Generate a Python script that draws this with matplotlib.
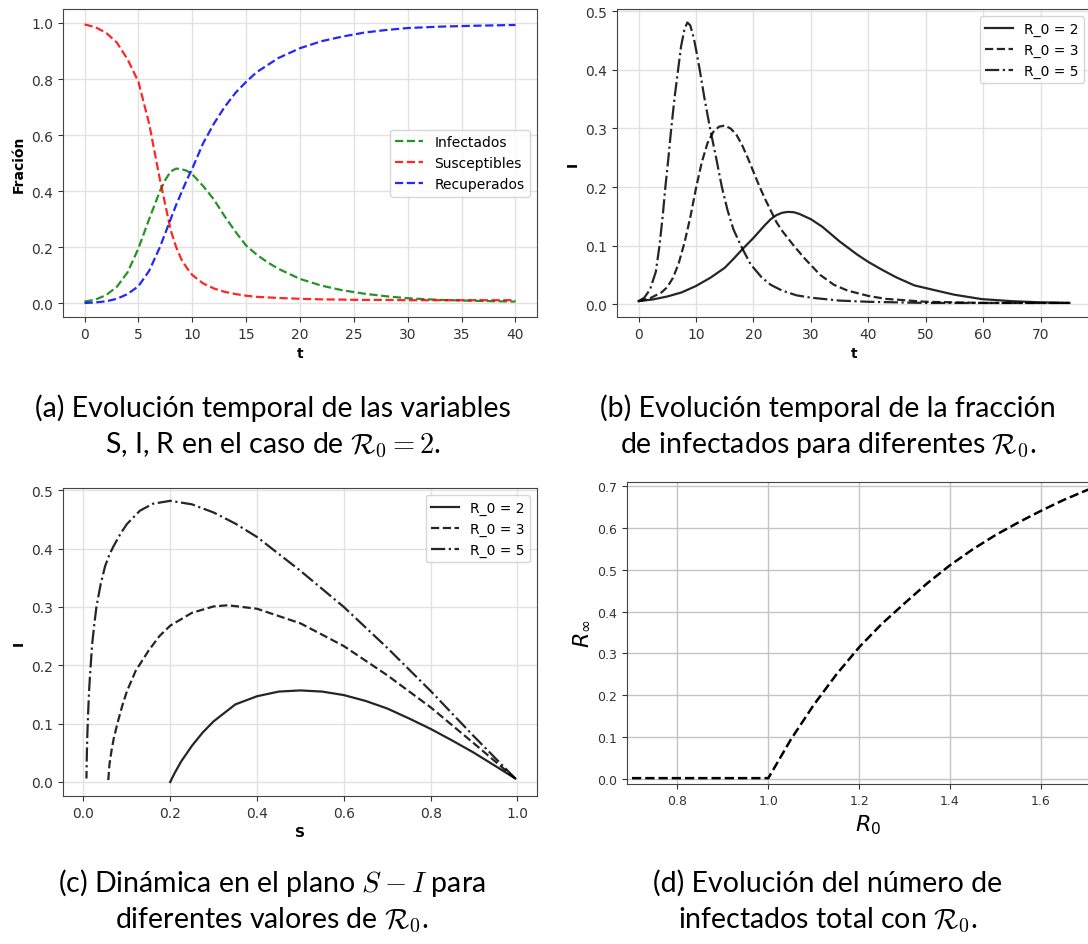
import numpy as np
import matplotlib.pyplot as plt

# (a) S, I, R vs t
t_a = [0, 1, 2, 3, 4, 5, 6, 7, 7.5, 8, 8.5, 9, 9.5, 10, 11, 12, 13, 14, 15, 16, 17,
       18, 20, 22, 24, 26, 28, 30, 33, 36, 40]
inf_a = [0.005, 0.012, 0.028, 0.058, 0.11, 0.195, 0.30, 0.40, 0.44, 0.47, 0.48, 0.478,
         0.472, 0.46, 0.418, 0.37, 0.31, 0.255, 0.205, 0.172, 0.145,
         0.122, 0.086, 0.062, 0.045, 0.033, 0.024, 0.017, 0.011, 0.008, 0.005]
sus_a = [0.995, 0.985, 0.965, 0.93, 0.87, 0.79, 0.64, 0.44, 0.35, 0.26, 0.20, 0.155,
         0.125, 0.10, 0.07, 0.052, 0.04, 0.032, 0.026, 0.022, 0.02,
         0.018, 0.015, 0.013, 0.012, 0.011, 0.011, 0.01, 0.01, 0.01, 0.01]
rec_a = [0.0, 0.002, 0.006, 0.015, 0.032, 0.06, 0.115, 0.2, 0.25, 0.3, 0.35, 0.395,
         0.44, 0.48, 0.57, 0.64, 0.70, 0.75, 0.79, 0.825, 0.85,
         0.875, 0.91, 0.935, 0.952, 0.966, 0.975, 0.982, 0.987, 0.99, 0.993]

# (b) I vs t for several R0
t_b2 = [0, 2.5, 5, 7.5, 10, 12.5, 15, 16.5, 18, 20, 22, 23, 24, 25, 26, 27, 28, 30,
        32, 35, 38, 40, 42.5, 44.8, 48, 51.9, 55, 59.7, 65, 70, 75]
i_b2 = [0.005, 0.008, 0.013, 0.02, 0.031, 0.045, 0.062, 0.077, 0.093, 0.113, 0.135,
        0.145, 0.152, 0.156, 0.1575, 0.157, 0.154, 0.145, 0.132, 0.107, 0.085,
        0.072, 0.058, 0.046, 0.032, 0.023, 0.016, 0.0086, 0.005, 0.003, 0.002]
t_b3 = [0, 2, 4, 5, 6, 7, 8, 9, 10, 11, 12, 13, 14, 15, 16, 17, 18, 19, 20, 21, 22,
        23, 24, 25, 27, 29, 31.6, 34, 36.4, 40, 43, 50, 60, 75]
i_b3 = [0.005, 0.01, 0.02, 0.029, 0.045, 0.07, 0.105, 0.148, 0.198, 0.242, 0.275,
        0.294, 0.303, 0.305, 0.3, 0.29, 0.272, 0.25, 0.226, 0.202, 0.18, 0.16,
        0.14, 0.125, 0.1, 0.077, 0.05, 0.033, 0.023, 0.014, 0.009, 0.004, 0.002,
        0.002]
t_b5 = [0, 1, 2, 3, 3.65, 4.2, 4.67, 5.2, 5.69, 6.3, 6.88, 7.4, 8, 8.5, 9, 9.6,
        10.1, 10.65, 11.5, 12.45, 13.5, 14.5, 15.5, 16.5, 17.8, 19.5, 21.4, 23,
        25, 27.5, 30, 35, 40, 50, 60, 75]
i_b5 = [0.005, 0.011, 0.025, 0.055, 0.1, 0.15, 0.2, 0.25, 0.3, 0.355, 0.4, 0.44,
        0.47, 0.481, 0.476, 0.455, 0.43, 0.4, 0.35, 0.3, 0.25, 0.2, 0.16, 0.128,
        0.1, 0.068, 0.046, 0.033, 0.023, 0.015, 0.011, 0.006, 0.004, 0.002,
        0.002, 0.002]

# (c) S-I plane
s_c2 = [0.995, 0.95, 0.9, 0.85, 0.8, 0.75, 0.7, 0.65, 0.6, 0.55, 0.5, 0.45, 0.4,
        0.35, 0.3, 0.275, 0.25, 0.225, 0.21, 0.2]
i_c2 = [0.006, 0.027, 0.05, 0.071, 0.091, 0.109, 0.126, 0.139, 0.149, 0.155, 0.157,
        0.155, 0.147, 0.133, 0.104, 0.085, 0.062, 0.035, 0.015, 0.0]
s_c3 = [0.995, 0.9, 0.8, 0.7, 0.6, 0.5, 0.4, 0.333, 0.3, 0.25, 0.2, 0.175, 0.15,
        0.12, 0.1, 0.09, 0.08, 0.07, 0.065, 0.06, 0.057]
i_c3 = [0.006, 0.066, 0.128, 0.183, 0.233, 0.272, 0.297, 0.303, 0.301, 0.29, 0.268,
        0.25, 0.225, 0.19, 0.155, 0.132, 0.105, 0.075, 0.055, 0.03, 0.0]
s_c5 = [0.995, 0.9, 0.8, 0.7, 0.6, 0.5, 0.4, 0.35, 0.3, 0.25, 0.2, 0.16, 0.13, 0.1,
        0.085, 0.07, 0.06, 0.05, 0.04, 0.03, 0.025, 0.02, 0.015, 0.013, 0.011,
        0.009, 0.008, 0.0075, 0.007]
i_c5 = [0.006, 0.078, 0.156, 0.23, 0.3, 0.362, 0.42, 0.443, 0.462, 0.476, 0.482,
        0.477, 0.465, 0.442, 0.425, 0.405, 0.39, 0.37, 0.34, 0.3, 0.27, 0.235,
        0.18, 0.155, 0.12, 0.08, 0.05, 0.03, 0.006]

# (d) R_inf vs R0
r0_d = [0.7, 0.8, 0.9, 1.0, 1.02, 1.05, 1.1, 1.15, 1.2, 1.25, 1.3, 1.35, 1.4, 1.45,
        1.5, 1.55, 1.6, 1.65, 1.7, 1.75]
rinf_d = [0.002, 0.002, 0.002, 0.002, 0.039, 0.095, 0.177, 0.25, 0.315, 0.371, 0.42,
          0.468, 0.511, 0.549, 0.583, 0.613, 0.641, 0.667, 0.69, 0.71]

captions = [
    ("(a) Evolución temporal de las variables", r"S, I, R en el caso de $\mathcal{R}_0=2$."),
    ("(b) Evolución temporal de la fracción", r"de infectados para diferentes $\mathcal{R}_0$."),
    (r"(c) Dinámica en el plano $S-I$ para", r"diferentes valores de $\mathcal{R}_0$."),
    ("(d) Evolución del número de", r"infectados total con $\mathcal{R}_0$."),
]

W, H = 1088, 945
fig = plt.figure(figsize=(W / 100, H / 100), dpi=100)


def rect(l, t, r, b):
    return [l / W, 1 - b / H, (r - l) / W, (b - t) / H]


def style(ax, gridc="#e2e2e2", size=10):
    ax.grid(True, color=gridc, lw=1)
    ax.set_axisbelow(True)
    for s in ax.spines.values():
        s.set_color("#444444")
    ax.tick_params(labelsize=size, colors="#333333")


ax_a = fig.add_axes(rect(63, 10, 537, 318))
ax_a.plot(t_a, inf_a, "--", color="green", lw=1.6, alpha=0.85, label="Infectados")
ax_a.plot(t_a, sus_a, "--", color="red", lw=1.6, alpha=0.85, label="Susceptibles")
ax_a.plot(t_a, rec_a, "--", color="blue", lw=1.6, alpha=0.85, label="Recuperados")
ax_a.set_xlim(-2, 42)
ax_a.set_ylim(-0.05, 1.05)
ax_a.set_xticks(np.arange(0, 41, 5))
ax_a.set_xlabel("t", fontweight="bold")
ax_a.set_ylabel("Fración", fontweight="bold")
ax_a.legend(loc="center right", fontsize=10)
style(ax_a)

ax_b = fig.add_axes(rect(617, 10, 1091, 318))
ax_b.plot(t_b2, i_b2, "-", color="k", lw=1.6, alpha=0.85, label="R_0 = 2")
ax_b.plot(t_b3, i_b3, "--", color="k", lw=1.6, alpha=0.85, label="R_0 = 3")
ax_b.plot(t_b5, i_b5, "-.", color="k", lw=1.6, alpha=0.85, label="R_0 = 5")
ax_b.set_xlim(-3.75, 78.75)
ax_b.set_ylim(-0.022, 0.504)
ax_b.set_xticks(np.arange(0, 71, 10))
ax_b.set_xlabel("t", fontweight="bold")
ax_b.set_ylabel("I", fontweight="bold")
ax_b.legend(loc="upper right", fontsize=10)
style(ax_b)

ax_c = fig.add_axes(rect(63, 489, 537, 797))
ax_c.plot(s_c2, i_c2, "-", color="k", lw=1.6, alpha=0.85, label="R_0 = 2")
ax_c.plot(s_c3, i_c3, "--", color="k", lw=1.6, alpha=0.85, label="R_0 = 3")
ax_c.plot(s_c5, i_c5, "-.", color="k", lw=1.6, alpha=0.85, label="R_0 = 5")
ax_c.set_xlim(-0.047, 1.045)
ax_c.set_ylim(-0.024, 0.504)
ax_c.set_xlabel("S", fontweight="bold")
ax_c.set_ylabel("I", fontweight="bold")
ax_c.legend(loc="upper right", fontsize=10)
style(ax_c)

ax_d = fig.add_axes(rect(627, 483, 1109, 785))
ax_d.plot(r0_d, rinf_d, "--", color="k", lw=1.8)
ax_d.set_xlim(0.689, 1.75)
ax_d.set_ylim(-0.012, 0.71)
ax_d.set_xticks([0.8, 1.0, 1.2, 1.4, 1.6])
ax_d.set_xlabel(r"$R_0$", fontsize=16)
ax_d.set_ylabel(r"$R_\infty$", fontsize=16)
style(ax_d, gridc="#c4c4c4", size=9)

cap_x = [273, 828, 272, 828]
cap_y = [408, 408, 883, 883]
for (l1, l2), cx, cy in zip(captions, cap_x, cap_y):
    fig.text(cx / W, 1 - cy / H, l1, ha="center", va="center", fontsize=20.5,
             family="Lato", fontweight="normal", color="black", math_fontfamily="cm")
    fig.text(cx / W, 1 - (cy + 37) / H, l2, ha="center", va="center", fontsize=20.5,
             family="Lato", fontweight="normal", color="black", math_fontfamily="cm")

fig.savefig("out.png", dpi=100)
